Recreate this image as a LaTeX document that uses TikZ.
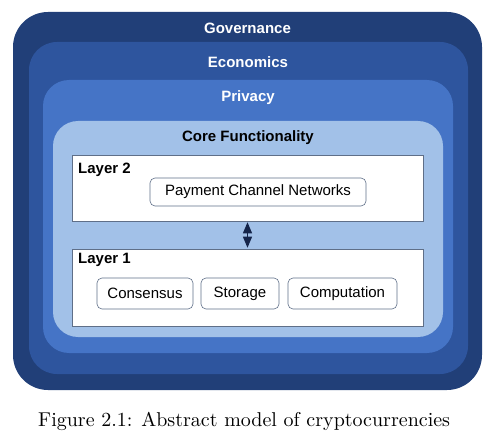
\documentclass[tikz,border=0pt]{standalone}
\usepackage{fontspec}
\setsansfont{Liberation Sans}
\newfontfamily\capfont{lmroman10-regular}[Extension=.otf]
\usepackage{tikz}
\usetikzlibrary{arrows}

\definecolor{govblue}{HTML}{213F78}
\definecolor{ecoblue}{HTML}{2E559E}
\definecolor{privblue}{HTML}{4574C6}
\definecolor{coreblue}{HTML}{A2C1E8}
\definecolor{edgegray}{HTML}{5F6F88}
\definecolor{arrowblue}{HTML}{15254A}

\tikzset{
  band/.style={rounded corners=#1, inner sep=0pt},
  bandtitle/.style={font=\sffamily\bfseries\fontsize{15}{18}\selectfont, text=white},
  layerbox/.style={draw=edgegray, line width=0.6pt, fill=white, inner sep=0pt, minimum width=351pt},
  layerlabel/.style={font=\sffamily\bfseries\fontsize{15}{18}\selectfont, anchor=west, inner sep=0pt},
  part/.style={draw=edgegray, line width=0.6pt, fill=white, rounded corners=5pt, inner sep=0pt,
    minimum height=30pt, font=\sffamily\fontsize{15}{18}\selectfont}
}

\begin{document}
\begin{tikzpicture}[x=1pt, y=-1pt]
    \useasboundingbox (0,0) rectangle (496,444);

    % nested bands, outermost first
    \node[band=35pt, fill=govblue, minimum width=469pt, minimum height=378pt] (gov) at (247.5,201) {};
    \node[band=28pt, fill=ecoblue, minimum width=439pt, minimum height=332pt] (eco) at (248.5,208) {};
    \node[band=26pt, fill=privblue, minimum width=410pt, minimum height=273pt] (priv) at (248,216.5) {};
    \node[band=25pt, fill=coreblue, minimum width=390pt, minimum height=216pt] (core) at (248,229) {};

    \node[bandtitle] (govtitle) at (247.5,28) {Governance};
    \node[bandtitle] (ecotitle) at (248,62) {Economics};
    \node[bandtitle] (privtitle) at (248,98) {Privacy};
    \node[bandtitle, text=black] (coretitle) at (248,138) {Core Functionality};

    % the two layers
    \node[layerbox, minimum height=66pt] (layertwo) at (247.5,188) {};
    \node[layerbox, minimum height=77pt] (layerone) at (247.5,287.5) {};
    \node[layerlabel] (layertwolabel) at (78,170) {Layer 2};
    \node[layerlabel] (layeronelabel) at (78,259.5) {Layer 1};

    \node[part, minimum width=216pt, minimum height=28pt] (pcn) at (258,192) {Payment Channel Networks};
    \node[part, minimum width=96pt, minimum height=31pt] (cons) at (145,293.5) {Consensus};
    \node[part, minimum width=78pt, minimum height=31pt] (stor) at (240,293.5) {Storage};
    \node[part, minimum width=109pt, minimum height=31pt] (comp) at (342.5,293.5) {Computation};

    \draw [<->, >=triangle 45, line width=1.6pt, color=arrowblue, shorten <=1pt, shorten >=1pt]
      (layertwo.south) -- (layerone.north);

    \node[anchor=base west, inner sep=0pt, font=\capfont\fontsize{20}{24}\selectfont] (caption) at (38,426)
      {Figure 2.1: Abstract model of cryptocurrencies};
\end{tikzpicture}
\end{document}
